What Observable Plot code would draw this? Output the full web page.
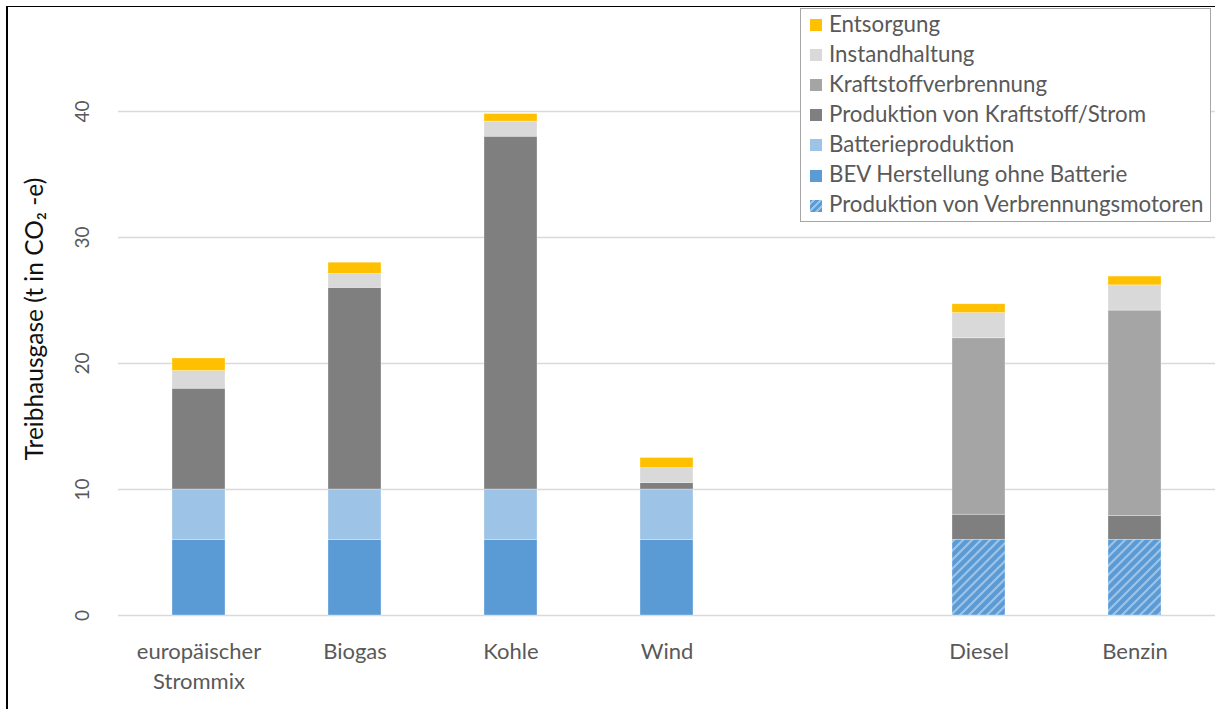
<!DOCTYPE html>
<html>
<head>
<meta charset="utf-8">
<script src="https://cdn.jsdelivr.net/npm/d3@7"></script>
<script src="https://cdn.jsdelivr.net/npm/@observablehq/plot@0.6"></script>
<style>
  html, body { margin: 0; padding: 0; background: #fff; }
  #wrap { position: relative; width: 1215px; height: 709px; overflow: hidden; font-family: Lato, "Open Sans", sans-serif; }
  #frame { position: absolute; left: 6px; top: 6px; width: 1300px; height: 800px; border-top: 1px solid #000; border-left: 2px solid #000; box-sizing: border-box; }
  #chart { position: absolute; left: 0; top: 0; }
  #legend { position: absolute; left: 800px; top: 8px; width: 411px; height: 214px; border: 1px solid #a6a6a6; background: #fff; box-sizing: border-box; }
  .item { position: absolute; left: 9px; height: 30px; display: flex; align-items: center; font-size: 22.3px; color: #595959; white-space: nowrap; }
  .item .tx { position: relative; top: -2px; }
  .sw { width: 12px; height: 12px; margin-right: 7px; flex: none; }
</style>
</head>
<body>
<div id="wrap">
  <div id="frame"></div>
  <div id="chart"></div>
  <div id="legend"></div>
</div>
<script>
// ---- data ----
const categories = ["europäischer Strommix", "Biogas", "Kohle", "Wind", " ", "Diesel", "Benzin"];
const categoryLabels = ["europäischer\nStrommix", "Biogas", "Kohle", "Wind", "", "Diesel", "Benzin"];
// series, bottom to top
const seriesNames = [
  "Produktion von Verbrennungsmotoren",
  "BEV Herstellung ohne Batterie",
  "Batterieproduktion",
  "Produktion von Kraftstoff/Strom",
  "Kraftstoffverbrennung",
  "Instandhaltung",
  "Entsorgung"
];
const verbrennungsmotoren = [0, 0, 0, 0, null, 6, 6];
const bevHerstellung      = [6, 6, 6, 6, null, 0, 0];
const batterieproduktion  = [4, 4, 4, 4, null, 0, 0];
const produktionStrom     = [8, 16, 28, 0.5, null, 2, 1.9];
const kraftstoffverbrennung = [0, 0, 0, 0, null, 14, 16.3];
const instandhaltung      = [1.4, 1.1, 1.2, 1.2, null, 2.0, 2.0];
const entsorgung          = [1.0, 0.9, 0.6, 0.8, null, 0.7, 0.7];
const yTicks = [0, 10, 20, 30, 40];
const yTitle = "Treibhausgase (t in CO₂ -e)";
const legendOrder = [
  "Entsorgung", "Instandhaltung", "Kraftstoffverbrennung", "Produktion von Kraftstoff/Strom",
  "Batterieproduktion", "BEV Herstellung ohne Batterie", "Produktion von Verbrennungsmotoren"
];

// ---- table ----
const seriesValues = [verbrennungsmotoren, bevHerstellung, batterieproduktion, produktionStrom, kraftstoffverbrennung, instandhaltung, entsorgung];
const rows = [];
categories.forEach((c, i) => {
  seriesNames.forEach((s, j) => {
    const v = seriesValues[j][i];
    if (v != null) rows.push({category: c, series: s, value: v});
  });
});
const colorRange = ["url(#hatch)", "#5b9bd5", "#9dc3e6", "#7f7f7f", "#a5a5a5", "#d9d9d9", "#ffc000"];
const legendColors = {
  "Entsorgung": "#ffc000",
  "Instandhaltung": "#d9d9d9",
  "Kraftstoffverbrennung": "#a5a5a5",
  "Produktion von Kraftstoff/Strom": "#7f7f7f",
  "Batterieproduktion": "#9dc3e6",
  "BEV Herstellung ohne Batterie": "#5b9bd5",
  "Produktion von Verbrennungsmotoren": "repeating-linear-gradient(-45deg, #5b9bd5 0px, #5b9bd5 3px, #9dc3e6 3px, #9dc3e6 5px)"
};
const labelOf = new Map(categories.map((c, i) => [c, categoryLabels[i]]));

const font = "Lato, 'Open Sans', sans-serif";
const chart = Plot.plot({
  width: 1215,
  height: 709,
  marginLeft: 118,
  marginRight: 0,
  marginTop: 111,
  marginBottom: 94,
  style: {fontFamily: font, background: "transparent", overflow: "visible"},
  x: {domain: categories, paddingInner: 0.66, paddingOuter: 0.33, axis: null},
  y: {domain: [0, 40], axis: null},
  color: {domain: seriesNames, range: colorRange},
  marks: [
    Plot.gridY(yTicks, {stroke: "#d9d9d9", strokeOpacity: 1, strokeWidth: 1.3}),
    Plot.barY(rows, {x: "category", y: "value", fill: "series", order: seriesNames, stroke: "#fff", strokeWidth: 0.6, strokeOpacity: 0.5, inset: 0}),
    Plot.text(yTicks, {y: d => d, text: d => String(d), frameAnchor: "left", textAnchor: "middle", lineAnchor: "middle", dx: -35.5, rotate: -90, fontSize: 19, fill: "#595959"}),
    Plot.text([yTitle], {text: d => d, frameAnchor: "left", textAnchor: "middle", lineAnchor: "middle", dx: -83.5, dy: -44.5, rotate: -90, fontSize: 24.5, fill: "#111"}),
    Plot.text(categories.filter(c => labelOf.get(c)), {x: d => d, text: d => labelOf.get(d), frameAnchor: "bottom", lineAnchor: "top", dy: 22.4, lineHeight: 1.36, fontSize: 22, fill: "#595959"})
  ]
});

// hatch pattern
const svg = d3.select(chart);
const defs = svg.insert("defs", ":first-child");
const pat = defs.append("pattern").attr("id", "hatch").attr("patternUnits", "userSpaceOnUse")
  .attr("width", 9).attr("height", 9);
pat.append("rect").attr("width", 9).attr("height", 9).attr("fill", "#5b9bd5");
pat.append("path").attr("d", "M-2,2 L2,-2 M0,9 L9,0 M7,11 L11,7")
  .attr("stroke", "#9dc3e6").attr("stroke-width", 2.2);
document.getElementById("chart").appendChild(chart);

// legend
const legend = document.getElementById("legend");
legendOrder.forEach((name, i) => {
  const it = document.createElement("div");
  it.className = "item";
  it.style.top = (1 + i * 30.1) + "px";
  const sw = document.createElement("span");
  sw.className = "sw";
  sw.style.background = legendColors[name];
  const tx = document.createElement("span");
  tx.className = "tx";
  tx.textContent = name;
  it.appendChild(sw); it.appendChild(tx);
  legend.appendChild(it);
});
</script>
</body>
</html>
